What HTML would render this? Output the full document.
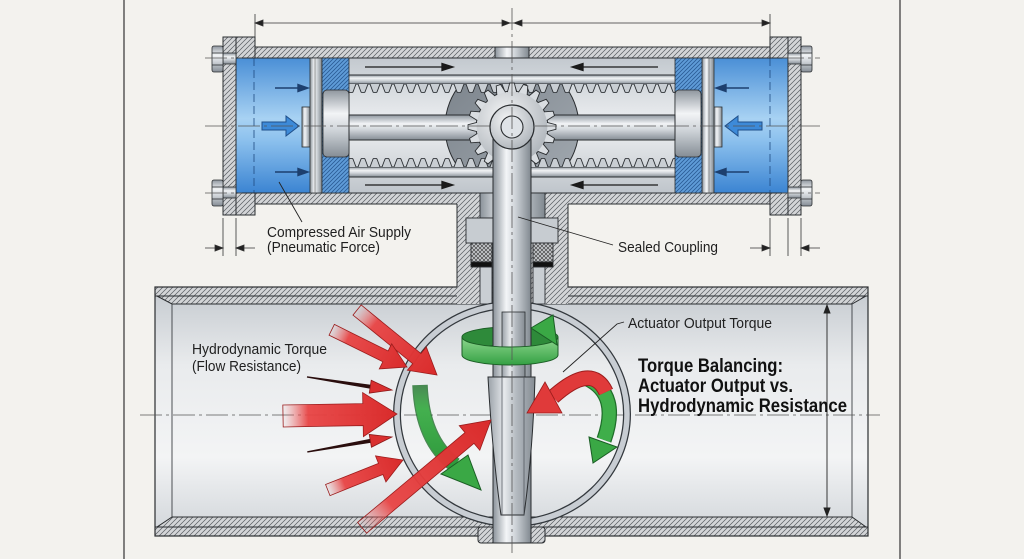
<!DOCTYPE html>
<html><head><meta charset="utf-8">
<style>html,body{margin:0;padding:0;background:#f3f2ee;}svg{display:block}</style>
</head>
<body>
<svg xmlns="http://www.w3.org/2000/svg" xmlns:xlink="http://www.w3.org/1999/xlink" width="1024" height="559" viewBox="0 0 1024 559">
<defs>
<pattern id="hatch" patternUnits="userSpaceOnUse" width="5" height="5">
 <rect width="5" height="5" fill="#d3d5d7"/>
 <path d="M-1,1 L1,-1 M0,5 L5,0 M4,6 L6,4" stroke="#565b60" stroke-width="0.7"/>
</pattern>
<pattern id="bhatch" patternUnits="userSpaceOnUse" width="4" height="4">
 <rect width="4" height="4" fill="#5f9cd8"/>
 <path d="M-1,1 L1,-1 M0,4 L4,0 M3,5 L5,3" stroke="#2a5b95" stroke-width="0.8"/>
</pattern>
<pattern id="xhatch" patternUnits="userSpaceOnUse" width="4" height="4">
 <rect width="4" height="4" fill="#c4c7ca"/>
 <path d="M0,4 L4,0 M0,0 L4,4" stroke="#333" stroke-width="0.6"/>
</pattern>
<pattern id="tDown" patternUnits="userSpaceOnUse" x="333" y="84" width="12" height="10">
 <path d="M1,0 L4,8 Q6,9.5 8,8 L11,0" fill="#c9ced3" stroke="#2b2f33" stroke-width="0.9"/>
</pattern>
<pattern id="tUp" patternUnits="userSpaceOnUse" x="333" y="158" width="12" height="9">
 <path d="M1,9 L4,1 Q6,-0.5 8,1 L11,9" fill="#c9ced3" stroke="#2b2f33" stroke-width="0.9"/>
</pattern>
<linearGradient id="silV" x1="0" y1="0" x2="0" y2="1">
 <stop offset="0" stop-color="#8f979f"/><stop offset="0.35" stop-color="#f2f4f6"/><stop offset="0.6" stop-color="#cfd4d9"/><stop offset="1" stop-color="#858d95"/>
</linearGradient>
<linearGradient id="silH" x1="0" y1="0" x2="1" y2="0">
 <stop offset="0" stop-color="#8a929a"/><stop offset="0.35" stop-color="#f3f5f7"/><stop offset="0.6" stop-color="#cdd2d7"/><stop offset="1" stop-color="#80888f"/>
</linearGradient>
<linearGradient id="chamber" x1="0" y1="0" x2="0" y2="1">
 <stop offset="0" stop-color="#c3c9cf"/><stop offset="0.5" stop-color="#eef0f2"/><stop offset="1" stop-color="#bfc5cb"/>
</linearGradient>
<linearGradient id="blue" x1="0" y1="0" x2="0" y2="1">
 <stop offset="0" stop-color="#4a8fd6"/><stop offset="0.45" stop-color="#a8d2f3"/><stop offset="0.6" stop-color="#8ec2ee"/><stop offset="1" stop-color="#3b84d2"/>
</linearGradient>
<linearGradient id="pipeIn" x1="0" y1="0" x2="0" y2="1">
 <stop offset="0" stop-color="#c8cdd2"/><stop offset="0.3" stop-color="#e9ebed"/><stop offset="0.7" stop-color="#f3f4f5"/><stop offset="1" stop-color="#d4d8dc"/>
</linearGradient>
<linearGradient id="redF" x1="0" y1="0" x2="1" y2="0">
 <stop offset="0" stop-color="#ee6a6a" stop-opacity="0"/><stop offset="0.22" stop-color="#e84444" stop-opacity="0.95"/><stop offset="1" stop-color="#d92b2b"/>
</linearGradient>
<linearGradient id="disc" x1="0" y1="0" x2="1" y2="0">
 <stop offset="0" stop-color="#9aa1a8"/><stop offset="0.35" stop-color="#e6e9ec"/><stop offset="0.6" stop-color="#b4bac0"/><stop offset="1" stop-color="#858c93"/>
</linearGradient>
<radialGradient id="gearG" cx="0.4" cy="0.35" r="0.7">
 <stop offset="0" stop-color="#f5f6f7"/><stop offset="1" stop-color="#aeb4ba"/>
</radialGradient>
<linearGradient id="darkD" x1="0" y1="0" x2="1" y2="1">
 <stop offset="0" stop-color="#7a828a"/><stop offset="1" stop-color="#a3aab1"/>
</linearGradient>
<linearGradient id="gFade" x1="0" y1="0" x2="0" y2="1">
 <stop offset="0" stop-color="#4cb957" stop-opacity="0"/><stop offset="0.3" stop-color="#44b04f"/><stop offset="1" stop-color="#2f9a3c"/>
</linearGradient>
<linearGradient id="gBand" x1="0" y1="0" x2="0" y2="1">
 <stop offset="0" stop-color="#8fd88f"/><stop offset="1" stop-color="#34a043"/>
</linearGradient>
<clipPath id="cl"><rect x="430" y="84" width="164" height="83"/></clipPath>
<polygon id="tooth" points="-4.8,-32 -4.39,-35.73 -2.3,-43.94 2.3,-43.94 4.39,-35.73 4.8,-32" fill="#d9dde1" stroke="#2a2d30" stroke-width="0.9"/>
</defs>

<rect width="1024" height="559" fill="#f3f2ee"/>
<line x1="124" y1="0" x2="124" y2="559" stroke="#333" stroke-width="1.2"/>
<line x1="900" y1="0" x2="900" y2="559" stroke="#333" stroke-width="1.2"/>

<!-- top dimension -->
<g stroke="#333" stroke-width="0.8" fill="#222">
 <line x1="255" y1="14" x2="255" y2="37"/>
 <line x1="770" y1="14" x2="770" y2="37"/>
 <line x1="255" y1="23" x2="770" y2="23"/>
 <polygon points="263,20 255,23 263,26"/>
 <polygon points="502,20 510,23 502,26"/>
 <polygon points="522,20 514,23 522,26"/>
 <polygon points="762,20 770,23 762,26"/>
 <line x1="223" y1="218" x2="223" y2="256"/>
 <line x1="236" y1="218" x2="236" y2="256"/>
 <line x1="205" y1="248" x2="223" y2="248"/>
 <line x1="236" y1="248" x2="255" y2="248"/>
 <polygon points="215,245 223,248 215,251"/>
 <polygon points="244,245 236,248 244,251"/>
 <line x1="770" y1="218" x2="770" y2="256"/>
 <line x1="788" y1="218" x2="788" y2="256"/>
 <line x1="801" y1="218" x2="801" y2="256"/>
 <line x1="750" y1="248" x2="770" y2="248"/>
 <line x1="801" y1="248" x2="820" y2="248"/>
 <polygon points="762,245 770,248 762,251"/>
 <polygon points="809,245 801,248 809,251"/>
</g>

<!-- ACTUATOR -->
<rect x="255" y="58" width="515" height="135" fill="url(#chamber)"/>
<rect x="236" y="58" width="74" height="135" fill="url(#blue)"/>
<rect x="714" y="58" width="74" height="135" fill="url(#blue)"/>
<line x1="254" y1="58" x2="254" y2="193" stroke="#1e4a80" stroke-width="0.8" stroke-dasharray="8 4"/>
<line x1="770" y1="58" x2="770" y2="193" stroke="#1e4a80" stroke-width="0.8" stroke-dasharray="8 4"/>

<circle cx="512" cy="127" r="67" fill="url(#darkD)" stroke="#2a2d30" stroke-width="1" clip-path="url(#cl)"/>

<rect x="255" y="47" width="515" height="11" fill="url(#hatch)" stroke="#2a2d30" stroke-width="1"/>
<rect x="495" y="47" width="34" height="11" fill="url(#silH)" stroke="#2a2d30" stroke-width="1"/>
<rect x="255" y="193" width="515" height="11" fill="url(#hatch)" stroke="#2a2d30" stroke-width="1"/>
<g fill="url(#hatch)" stroke="#2a2d30" stroke-width="1">
 <rect x="236" y="37" width="19" height="21"/>
 <rect x="236" y="193" width="19" height="22"/>
 <rect x="223" y="37" width="13" height="178"/>
 <rect x="770" y="37" width="18" height="21"/>
 <rect x="770" y="193" width="18" height="22"/>
 <rect x="788" y="37" width="13" height="178"/>
</g>
<g stroke="#2a2d30" stroke-width="0.8" fill="url(#silV)">
 <rect x="223" y="53" width="13" height="11"/>
 <rect x="223" y="187" width="13" height="11"/>
 <rect x="788" y="53" width="13" height="11"/>
 <rect x="788" y="187" width="13" height="11"/>
 <rect x="212" y="46" width="11" height="26" rx="2"/>
 <rect x="212" y="180" width="11" height="26" rx="2"/>
 <rect x="801" y="46" width="11" height="26" rx="2"/>
 <rect x="801" y="180" width="11" height="26" rx="2"/>
 <line x1="212" y1="53" x2="223" y2="53"/><line x1="212" y1="65" x2="223" y2="65"/>
 <line x1="212" y1="187" x2="223" y2="187"/><line x1="212" y1="199" x2="223" y2="199"/>
 <line x1="801" y1="53" x2="812" y2="53"/><line x1="801" y1="65" x2="812" y2="65"/>
 <line x1="801" y1="187" x2="812" y2="187"/><line x1="801" y1="199" x2="812" y2="199"/>
</g>

<!-- racks -->
<rect x="333" y="75" width="359" height="9" fill="url(#silV)" stroke="#2a2d30" stroke-width="1"/>
<rect x="345" y="84" width="335" height="9" fill="url(#tDown)"/>
<rect x="333" y="167" width="359" height="10" fill="url(#silV)" stroke="#2a2d30" stroke-width="1"/>
<rect x="345" y="158" width="335" height="9" fill="url(#tUp)"/>

<!-- pistons -->
<g stroke="#2a2d30" stroke-width="0.8">
 <rect x="302" y="107" width="8" height="40" fill="url(#silH)"/>
 <rect x="310" y="58" width="12" height="135" fill="url(#silH)"/>
 <line x1="315" y1="58" x2="315" y2="193" stroke="#555" stroke-width="0.6"/>
 <rect x="322" y="58" width="27" height="135" fill="url(#bhatch)"/>
 <rect x="323" y="90" width="26" height="67" rx="4" fill="url(#silV)"/>
 <rect x="714" y="107" width="8" height="40" fill="url(#silH)"/>
 <rect x="702" y="58" width="12" height="135" fill="url(#silH)"/>
 <line x1="709" y1="58" x2="709" y2="193" stroke="#555" stroke-width="0.6"/>
 <rect x="675" y="58" width="27" height="135" fill="url(#bhatch)"/>
 <rect x="675" y="90" width="26" height="67" rx="4" fill="url(#silV)"/>
</g>
<rect x="349" y="115" width="326" height="25" fill="url(#silV)" stroke="#2a2d30" stroke-width="1"/>

<!-- gear -->
<circle cx="512" cy="127" r="35.8" fill="#c9ced3" stroke="#2a2d30" stroke-width="1"/>
<g transform="translate(512,127)">
 <use xlink:href="#tooth" transform="rotate(0)"/>
 <use xlink:href="#tooth" transform="rotate(18)"/>
 <use xlink:href="#tooth" transform="rotate(36)"/>
 <use xlink:href="#tooth" transform="rotate(54)"/>
 <use xlink:href="#tooth" transform="rotate(72)"/>
 <use xlink:href="#tooth" transform="rotate(90)"/>
 <use xlink:href="#tooth" transform="rotate(108)"/>
 <use xlink:href="#tooth" transform="rotate(126)"/>
 <use xlink:href="#tooth" transform="rotate(144)"/>
 <use xlink:href="#tooth" transform="rotate(162)"/>
 <use xlink:href="#tooth" transform="rotate(180)"/>
 <use xlink:href="#tooth" transform="rotate(198)"/>
 <use xlink:href="#tooth" transform="rotate(216)"/>
 <use xlink:href="#tooth" transform="rotate(234)"/>
 <use xlink:href="#tooth" transform="rotate(252)"/>
 <use xlink:href="#tooth" transform="rotate(270)"/>
 <use xlink:href="#tooth" transform="rotate(288)"/>
 <use xlink:href="#tooth" transform="rotate(306)"/>
 <use xlink:href="#tooth" transform="rotate(324)"/>
 <use xlink:href="#tooth" transform="rotate(342)"/>
</g>
<circle cx="512" cy="127" r="35.3" fill="url(#gearG)"/>

<!-- rack arrows -->
<g stroke="#1a1a1a" stroke-width="1.3" fill="#1a1a1a">
 <line x1="365" y1="67" x2="445" y2="67"/><polygon points="442,63.5 453,67 442,70.5"/>
 <line x1="580" y1="67" x2="658" y2="67"/><polygon points="583,63.5 572,67 583,70.5"/>
 <line x1="365" y1="185" x2="445" y2="185"/><polygon points="442,181.5 453,185 442,188.5"/>
 <line x1="580" y1="185" x2="658" y2="185"/><polygon points="583,181.5 572,185 583,188.5"/>
</g>
<g stroke="#1d3f6e" stroke-width="1.4" fill="#1d3f6e">
 <line x1="275" y1="88" x2="300" y2="88"/><polygon points="298,84.5 308,88 298,91.5"/>
 <line x1="275" y1="172" x2="300" y2="172"/><polygon points="298,168.5 308,172 298,175.5"/>
 <line x1="749" y1="88" x2="724" y2="88"/><polygon points="726,84.5 716,88 726,91.5"/>
 <line x1="749" y1="172" x2="724" y2="172"/><polygon points="726,168.5 716,172 726,175.5"/>
</g>
<polygon points="262,122 286,122 286,116 299,126 286,136 286,130 262,130" fill="#3d8ad8" stroke="#1f4f8a" stroke-width="1"/>
<polygon points="762,122 738,122 738,116 725,126 738,136 738,130 762,130" fill="#3d8ad8" stroke="#1f4f8a" stroke-width="1"/>

<!-- PIPE -->
<rect x="155" y="296" width="713" height="231" fill="url(#pipeIn)"/>
<line x1="172" y1="304" x2="172" y2="517" stroke="#3a3e42" stroke-width="0.9"/>
<line x1="852" y1="304" x2="852" y2="517" stroke="#3a3e42" stroke-width="0.9"/>
<rect x="155" y="287" width="713" height="9" fill="url(#hatch)" stroke="#2a2d30" stroke-width="1"/>
<polygon points="157,296 866,296 852,304 172,304" fill="url(#hatch)" stroke="#2a2d30" stroke-width="1"/>
<polygon points="172,517 852,517 866,527 157,527" fill="url(#hatch)" stroke="#2a2d30" stroke-width="1"/>
<rect x="155" y="527" width="713" height="9" fill="url(#hatch)" stroke="#2a2d30" stroke-width="1"/>
<rect x="155" y="287" width="713" height="249" fill="none" stroke="#2a2d30" stroke-width="1.2"/>
<rect x="478" y="527" width="67" height="16" rx="3" fill="url(#hatch)" stroke="#2a2d30" stroke-width="1"/>

<!-- NECK -->
<rect x="457" y="203" width="111" height="101" fill="url(#hatch)"/>
<line x1="457" y1="204" x2="457" y2="287" stroke="#2a2d30" stroke-width="1"/>
<line x1="568" y1="204" x2="568" y2="287" stroke="#2a2d30" stroke-width="1"/>
<g stroke="#2a2d30" stroke-width="0.9">
 <rect x="480" y="193" width="65" height="25" fill="url(#silH)"/>
 <rect x="466" y="218" width="92" height="25" fill="#c7ccd1"/>
 <rect x="471" y="243" width="21" height="19" fill="url(#xhatch)"/>
 <rect x="533" y="243" width="20" height="19" fill="url(#xhatch)"/>
 <rect x="471" y="262" width="21" height="5" fill="#111"/>
 <rect x="533" y="262" width="20" height="5" fill="#111"/>
 <rect x="480" y="267" width="12" height="37" fill="#c9ced3"/>
 <rect x="533" y="267" width="12" height="37" fill="#c9ced3"/>
</g>

<line x1="140" y1="415" x2="880" y2="415" stroke="#555" stroke-width="0.8" stroke-dasharray="22 4 3 4"/>
<g stroke="#555" stroke-width="0.8" stroke-dasharray="22 4 3 4">
 <line x1="205" y1="126" x2="820" y2="126"/>
 <line x1="205" y1="58" x2="242" y2="58"/>
 <line x1="205" y1="193" x2="242" y2="193"/>
 <line x1="782" y1="58" x2="820" y2="58"/>
 <line x1="782" y1="193" x2="820" y2="193"/>
</g>

<!-- ring -->
<ellipse cx="512" cy="414" rx="115" ry="109" fill="none" stroke="#33383d" stroke-width="8"/>
<ellipse cx="512" cy="414" rx="115" ry="109" fill="none" stroke="#c8cdd3" stroke-width="5.5"/>

<path d="M462,337 A48,10 0 0 1 558,337 L558,355 A48,10 0 0 0 462,355 Z" fill="#2e8a3a" stroke="#1b5e25" stroke-width="1"/>

<!-- stem -->
<rect x="493" y="138" width="38" height="405" fill="url(#silH)" stroke="#2a2d30" stroke-width="1"/>
<rect x="502" y="312" width="23" height="66" fill="url(#disc)" stroke="#2a2d30" stroke-width="0.8"/>
<path d="M488,377 L535,377 Q533,450 524,515 L501,515 Q492,450 488,377 Z" fill="url(#disc)" stroke="#2a2d30" stroke-width="1"/>
<line x1="502" y1="377" x2="502" y2="515" stroke="#4a5056" stroke-width="0.7"/>
<line x1="524" y1="377" x2="524" y2="515" stroke="#4a5056" stroke-width="0.7"/>

<path d="M462,337 A48,10 0 0 0 558,337 L558,355 A48,10 0 0 1 462,355 Z" fill="url(#gBand)" stroke="#1b5e25" stroke-width="1"/>
<polygon points="531,328 553,315 557,345" fill="#3aa845" stroke="#1b5e25" stroke-width="1"/>

<!-- hub -->
<circle cx="512" cy="127" r="22" fill="url(#gearG)" stroke="#2a2d30" stroke-width="1.2"/>
<circle cx="512" cy="127" r="11" fill="#dfe3e7" stroke="#2a2d30" stroke-width="1.1"/>

<!-- green left arc -->
<path d="M420,385 Q422,440 455,465" fill="none" stroke="#1f6e2a" stroke-width="15.5" stroke-opacity="0.8"/>
<path d="M420,385 Q422,440 455,465" fill="none" stroke="url(#gFade)" stroke-width="13"/>
<polygon points="441,474 468,455 481,490" fill="#3aa845" stroke="#1b5e25" stroke-width="1"/>

<!-- red left arrows -->
<g stroke="#9c1c1c" stroke-width="0.8" fill="url(#redF)">
 <polygon transform="translate(437,375) rotate(39.1)" points="-103,-6.5 -26,-6.5 -26,-15 0,0 -26,15 -26,6.5 -103,6.5"/>
 <polygon transform="translate(407,367) rotate(26.3)" points="-84,-6 -24,-6 -24,-14 0,0 -24,14 -24,6 -84,6"/>
 <polygon transform="translate(397,414) rotate(-1)" points="-114,-11 -34,-11 -34,-22 0,0 -34,22 -34,11 -114,11"/>
 <polygon transform="translate(403,460) rotate(-21.8)" points="-81,-6 -24,-6 -24,-14 0,0 -24,14 -24,6 -81,6"/>
 <polygon transform="translate(491,420) rotate(-39.9)" points="-168,-7 -28,-7 -28,-16 0,0 -28,16 -28,7 -168,7"/>
</g>
<g transform="translate(392,390) rotate(8.7)">
 <polygon points="-86,-0.7 -20,-2 -20,2 -86,0.7" fill="#2a0d0d"/>
 <polygon points="-22,-6.5 0,0 -22,6.5" fill="#d93030" stroke="#8a1818" stroke-width="0.8"/>
</g>
<g transform="translate(392,437) rotate(-10)">
 <polygon points="-86,-0.7 -20,-2 -20,2 -86,0.7" fill="#2a0d0d"/>
 <polygon points="-22,-6.5 0,0 -22,6.5" fill="#d93030" stroke="#8a1818" stroke-width="0.8"/>
</g>

<!-- green right arc -->
<path d="M588,379 Q620,395 604,440" fill="none" stroke="#1f6e2a" stroke-width="15.5"/>
<path d="M588,379 Q620,395 604,440" fill="none" stroke="#3fae4a" stroke-width="13"/>
<polygon points="589,437 617,447 593,463" fill="#3aa845" stroke="#1b5e25" stroke-width="1"/>

<!-- red curved arrow -->
<path d="M606,392 Q592,362 553,397" fill="none" stroke="#9c1c1c" stroke-width="15.5"/>
<path d="M606,392 Q592,362 553,397" fill="none" stroke="#e03a3a" stroke-width="13.5"/>
<polygon points="545,382 562,413 527,413" fill="#e03a3a" stroke="#9c1c1c" stroke-width="0.8"/>

<g stroke="#222" stroke-width="0.9" fill="#222">
 <line x1="827" y1="306" x2="827" y2="515"/>
 <polygon points="824,313 827,305 830,313"/>
 <polygon points="824,508 827,516 830,508"/>
</g>

<line x1="512" y1="8" x2="512" y2="553" stroke="#555" stroke-width="0.8" stroke-dasharray="22 4 3 4"/>

<g stroke="#222" stroke-width="0.9" fill="none">
 <line x1="279" y1="182" x2="302" y2="222"/>
 <line x1="518" y1="217" x2="613" y2="245"/>
 <path d="M624,322 L617,324 L563,372"/>
</g>

<g font-family="'Liberation Sans', Arial, sans-serif" fill="#1f1f1f" font-size="14.5">
 <text x="267" y="237" textLength="144" lengthAdjust="spacingAndGlyphs">Compressed Air Supply</text>
 <text x="267" y="252" textLength="113" lengthAdjust="spacingAndGlyphs">(Pneumatic Force)</text>
 <text x="618" y="252" textLength="100" lengthAdjust="spacingAndGlyphs">Sealed Coupling</text>
 <text x="628" y="328" textLength="144" lengthAdjust="spacingAndGlyphs">Actuator Output Torque</text>
 <text x="192" y="354" textLength="135" lengthAdjust="spacingAndGlyphs">Hydrodynamic Torque</text>
 <text x="192" y="371" textLength="109" lengthAdjust="spacingAndGlyphs">(Flow Resistance)</text>
</g>
<g font-family="'Liberation Sans', Arial, sans-serif" fill="#111" font-size="19" font-weight="bold">
 <text x="638" y="372" textLength="145" lengthAdjust="spacingAndGlyphs">Torque Balancing:</text>
 <text x="638" y="392" textLength="155" lengthAdjust="spacingAndGlyphs">Actuator Output vs.</text>
 <text x="638" y="412" textLength="209" lengthAdjust="spacingAndGlyphs">Hydrodynamic Resistance</text>
</g>
</svg>
</body></html>
